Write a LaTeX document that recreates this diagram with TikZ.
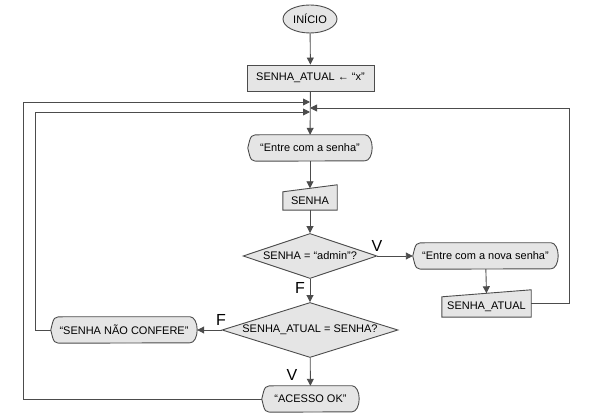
\documentclass[tikz,border=0pt]{standalone}
\usepackage{fontspec}
\setmainfont{Liberation Sans}
\usetikzlibrary{arrows.meta, positioning, shapes.geometric, backgrounds}

\begin{document}
\begin{tikzpicture}[
    x=1pt, y=-1pt,
    >={Triangle[length=7pt,width=7pt]},
    font=\fontsize{11}{13}\selectfont,
    shp/.style  = {draw=black!70, line width=0.9pt, fill=black!10},
    term/.style = {shp, ellipse, minimum width=54pt, minimum height=28pt, inner sep=0pt},
    proc/.style = {shp, rectangle, minimum height=26pt, inner sep=0pt},
    disp/.style = {minimum height=26pt, inner sep=0pt},
    inp/.style  = {inner sep=0pt},
    dec/.style  = {shp, diamond, inner sep=0pt},
    flow/.style = {->, draw=black!70, line width=0.9pt},
    link/.style = {draw=black!70, line width=0.9pt},
    vf/.style   = {font=\fontsize{16}{18}\selectfont, inner sep=0pt}
  ]
  \useasboundingbox (0,0) rectangle (592,419);

  % --- main column ---
  \node[term] (ini) at (310,19) {INÍCIO};
  \node[proc, minimum width=127pt] (atr) at (310.5,78) {SENHA\_ATUAL ← “x”};
  \node[disp, minimum width=124pt] (es) at (310,148) {“Entre com a senha”};
  \node[inp, minimum width=54pt, minimum height=18pt] (sen) at (310,201) {SENHA};
  \node[dec, shape aspect=2.98, minimum width=134pt, minimum height=45pt] (d1) at (310,256) {SENHA = “admin”?};
  \node[dec, shape aspect=3.2, minimum width=176pt, minimum height=55pt] (d2) at (310,330) {SENHA\_ATUAL = SENHA?};
  \node[disp, minimum width=97pt] (ok) at (310.5,399) {“ACESSO OK”};

  % --- side branches ---
  \node[disp, minimum width=145pt] (nova) at (485.5,256) {“Entre com a nova senha”};
  \node[inp, minimum width=89pt, minimum height=20pt] (sa) at (486.5,307) {SENHA\_ATUAL};
  \node[disp, minimum width=146pt] (nc) at (124,330) {“SENHA NÃO CONFERE”};

  % --- shapes drawn behind the texts ---
  \begin{scope}[on background layer]
    \foreach \n in {es,ok,nova,nc}
      \draw[shp] (\n.west) .. controls ([xshift=3pt]\n.north west) .. ([xshift=12pt]\n.north west)
        -- ([xshift=-7pt]\n.north east) arc[start angle=90, end angle=-90, x radius=7pt, y radius=13pt]
        -- ([xshift=12pt]\n.south west) .. controls ([xshift=3pt]\n.south west) .. (\n.west) -- cycle;
    \foreach \n in {sen,sa}
      \draw[shp] (\n.south west) -- (\n.south east) -- ([yshift=7pt]\n.north east) -- (\n.north west) -- cycle;
  \end{scope}

  % --- junction points of the loops ---
  \coordinate (j1) at (310,102);
  \coordinate (j2) at (310,112);
  \coordinate (j3) at (310,108);
  \coordinate (cA) at (23,102);
  \coordinate (cB) at (35,112);
  \coordinate (cC) at (569,108);

  % --- connectors ---
  \draw[flow] (ini) -- (atr);
  \draw[flow] (atr) -- (es);
  \draw[flow] (es) -- ([yshift=3.5pt]sen.north);
  \draw[flow] (sen) -- (d1);
  \draw[flow] (d1) -- (nova);
  \draw[flow] (nova) -- ([yshift=3.5pt]sa.north);
  \draw[flow] (d1) -- (d2);
  \draw[flow] (d2) -- (nc);
  \draw[flow] (d2) -- (ok);
  \draw[link] ([yshift=3.5pt]sa.east) -| (cC);
  \draw[flow] (cC) -- (j3);
  \draw[link] (nc.west) -| (cB);
  \draw[flow] (cB) -- (j2);
  \draw[link] (ok.west) -| (cA);
  \draw[flow] (cA) -- (j1);

  % --- branch labels ---
  \node[vf] (v1) at (377,246) {V};
  \node[vf] (f1) at (300,288) {F};
  \node[vf] (f2) at (221,320) {F};
  \node[vf] (v2) at (292,375) {V};

\end{tikzpicture}
\end{document}
